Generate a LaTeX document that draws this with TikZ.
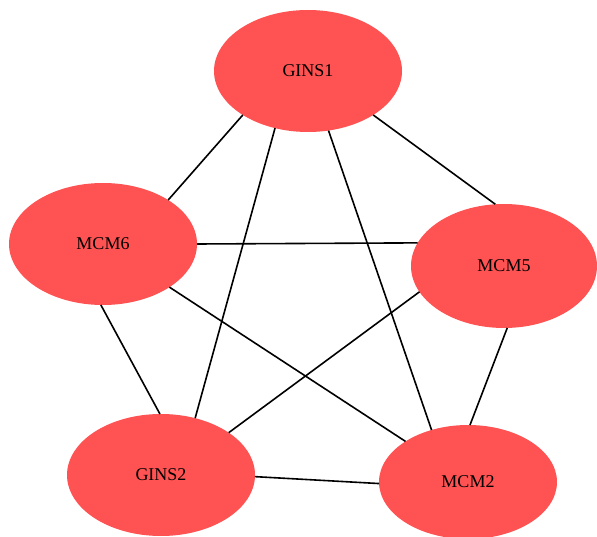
\documentclass[tikz,border=0pt]{standalone}
\usepackage{fontspec}
\setmainfont{Liberation Serif}
\usetikzlibrary{shapes.geometric}
\definecolor{nodered}{HTML}{FF5252}
\tikzset{
  prot/.style={ellipse,fill=nodered,draw=none,minimum width=188pt,minimum height=122pt,
    inner sep=1pt,outer sep=0pt,font=\fontsize{18}{20}\selectfont,text=black},
  link/.style={draw=black,line width=1.6pt},
}
\begin{document}
\begin{tikzpicture}[x=1pt,y=-1pt]
  \useasboundingbox (0,0) rectangle (597,537);
  % proteins
  \node[prot] (gins1) at (308,71) {GINS1};
  \node[prot] (mcm6) at (103,244) {MCM6};
  \node[prot,minimum width=186pt,minimum height=124pt] (mcm5) at (504,266) {MCM5};
  \node[prot] (gins2) at (161,475) {GINS2};
  \node[prot,minimum width=178pt,minimum height=114pt] (mcm2) at (468,482) {MCM2};
  % interactions
  \draw[link] (gins1.214) -- (mcm6.34);
  \draw[link] (gins1.240) -- (gins2.59);
  \draw[link] (gins1.289) -- (mcm2.125);
  \draw[link] (gins1.326) -- (mcm5.98);
  \draw[link] (mcm6.0) -- (mcm5.165);
  \draw[link] (mcm6.327) -- (mcm2.147);
  \draw[link] (mcm5.197) -- (gins2.32);
  \draw[link] (mcm6.268) -- (gins2.91);
  \draw[link] (mcm5.273) -- (mcm2.88);
  \draw[link] (gins2.359) -- (mcm2.181);
\end{tikzpicture}
\end{document}
